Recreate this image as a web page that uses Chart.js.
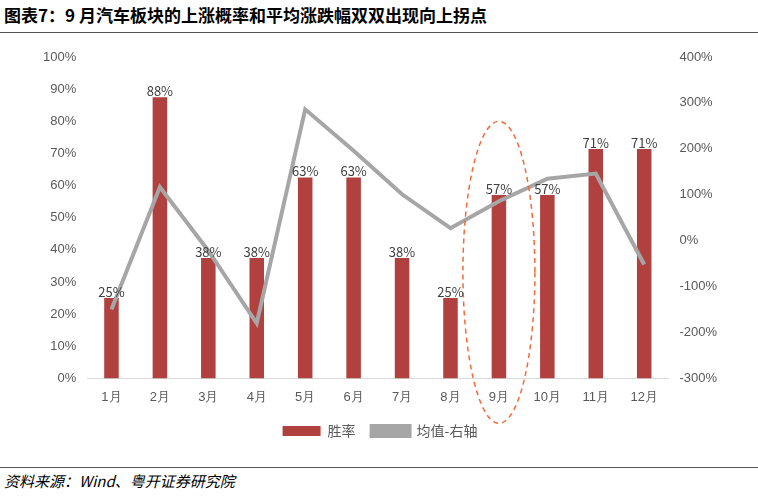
<!DOCTYPE html>
<html><head><meta charset="utf-8">
<script src="https://cdn.jsdelivr.net/npm/chart.js@4"></script>
<style>
body{margin:0;background:#fff;font-family:"Noto Sans CJK SC",sans-serif;}
#t{position:absolute;left:4px;top:2px;font-size:17px;font-weight:bold;color:#000;}
#l1{position:absolute;left:0;top:32px;width:758px;border-top:1px solid #555;}
#l2{position:absolute;left:0;top:467px;width:758px;border-top:1px solid #555;}
#s{position:absolute;left:4px;top:470px;font-size:15px;font-style:italic;color:#000;}
#c{position:absolute;left:0;top:36px;width:758px;height:412px;}
</style></head><body>
<div id="t">图表7：9 月汽车板块的上涨概率和平均涨跌幅双双出现向上拐点</div>
<div id="l1"></div>
<div id="c"><canvas id="cv"></canvas></div>
<div id="l2"></div>
<div id="s">资料来源：Wind、粤开证券研究院</div>
<script>
const categories=["1月","2月","3月","4月","5月","6月","7月","8月","9月","10月","11月","12月"];
const winRate=[25,87.5,37.5,37.5,62.5,62.5,37.5,25,57.1,57.1,71.4,71.4];
const avgChange=[-150,117,-22,-180,286,196,101,27,86,135,146,-52];
const ellipse={id:'ell',afterDatasetsDraw(ch){const a=ch.chartArea,c=ch.ctx;const cx=ch.scales.x.getPixelForValue(8);const h=a.bottom-a.top;
c.save();c.strokeStyle='#f26a3a';c.lineWidth=1.5;c.setLineDash([5,4]);c.beginPath();
c.ellipse(cx,a.top+0.67*h,36,0.47*h,0,0,Math.PI*2);c.stroke();c.restore();}};
new Chart(document.getElementById('cv'),{
data:{labels:categories,datasets:[
{type:'line',label:'均值-右轴',data:avgChange,yAxisID:'y1',borderColor:'#a6a6a6',backgroundColor:'#a6a6a6',borderWidth:4,pointRadius:0,order:0},
{type:'bar',label:'胜率',data:winRate,yAxisID:'y',backgroundColor:'#b0413e',barPercentage:0.3,categoryPercentage:1,order:1}
]},
options:{responsive:true,maintainAspectRatio:false,animation:false,
layout:{padding:{left:40,right:38,top:21,bottom:0}},
plugins:{legend:{position:'bottom',reverse:true,labels:{boxWidth:38,boxHeight:10,font:{size:14,family:"Noto Sans CJK SC"},color:'#595959',padding:16}},tooltip:{enabled:false}},
scales:{
x:{grid:{display:false},border:{color:'#d9d9d9'},ticks:{color:'#595959',font:{size:13}}},
y:{min:0,max:100,ticks:{stepSize:10,color:'#595959',font:{size:13},callback:v=>v+'%'},grid:{display:false},border:{display:false}},
y1:{position:'right',min:-300,max:400,ticks:{stepSize:100,color:'#595959',font:{size:13},callback:v=>v+'%'},grid:{display:false},border:{display:false}}
}},
plugins:[ellipse,{id:'lbl',afterDatasetsDraw(ch){const m=ch.getDatasetMeta(1),c=ch.ctx;c.save();c.fillStyle='#404040';c.font='13px "Noto Sans CJK SC"';c.textAlign='center';
m.data.forEach((b,i)=>c.fillText(Math.round(winRate[i])+'%',b.x,b.y-6));c.restore();}}]
});
</script></body></html>
